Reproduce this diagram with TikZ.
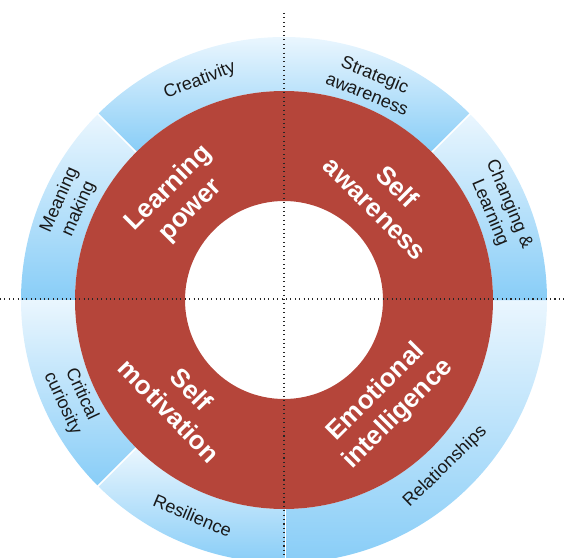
\documentclass[tikz,border=0pt]{standalone}
\usepackage{fontspec}
\setmainfont{Liberation Sans}
\usetikzlibrary{calc, positioning}
\definecolor{lpred}{HTML}{B5453A}
\definecolor{lpsky}{HTML}{88CDF7}
\definecolor{lpice}{HTML}{EAF6FE}

\begin{document}
\begin{tikzpicture}[x=1pt, y=1pt,
            seg/.style={top color=lpice, bottom color=lpsky},
            sep/.style={draw=white, line width=1.6pt},
            axis/.style={draw=black!85, line width=1.1pt, dash pattern=on 1.1pt off 3.3pt},
            small/.style={text=black!90, inner sep=0pt, align=center,
                font=\fontsize{18}{21}\selectfont},
            big/.style={text=white, inner sep=0pt, align=center,
                font=\bfseries\fontsize{26}{31}\selectfont}]
        \useasboundingbox (-284,-257) rectangle (281,300);
        % outer ring, seven parts
        \shade[seg] (90:209) arc (90:135:209) -- (135:263) arc (135:90:263) -- cycle;
        \shade[seg] (135:209) arc (135:180:209) -- (180:263) arc (180:135:263) -- cycle;
        \shade[seg] (180:209) arc (180:225:209) -- (225:263) arc (225:180:263) -- cycle;
        \shade[seg] (225:209) arc (225:270:209) -- (270:263) arc (270:225:263) -- cycle;
        \shade[seg] (270:209) arc (270:360:209) -- (0:263) arc (360:270:263) -- cycle;
        \shade[seg] (0:209) arc (0:45:209) -- (45:263) arc (45:0:263) -- cycle;
        \shade[seg] (45:209) arc (45:90:209) -- (90:263) arc (90:45:263) -- cycle;
        \draw[sep] (45:207) -- (45:265);
        \draw[sep] (135:207) -- (135:265);
        \draw[sep] (225:207) -- (225:265);
        \draw[sep] ([xshift=1.5pt]270:207) -- ([xshift=1.5pt]270:265);
        % inner ring
        \fill[lpred, even odd rule] (0,0) circle (209) (0,0) circle (99);
        % axes
        \coordinate (west) at (-284,1);
        \coordinate (east) at (281,1);
        \coordinate (north) at (0,287);
        \coordinate (south) at (0,-257);
        \draw[axis] (west) -- (east);
        \draw[axis] (north) -- (south);
        % four big labels
        \node[big, rotate=45] (learn) at (136:145) {Learning\\power};
        \node[big, rotate=-45] (selfaw) at (45:145) {Self\\awareness};
        \node[big, rotate=-46] (selfmo) at (224:144) {Self\\motivation};
        \node[big, rotate=45] (emoint) at (-45:146) {Emotional\\intelligence};
        % seven small labels
        \node[small, rotate=21] (creat) at (111:235) {Creativity};
        \node[small, rotate=66] (meaning) at (156:235) {Meaning\\making};
        \node[small, rotate=-22] (strat) at (68:233) {Strategic\\awareness};
        \node[small, rotate=-67] (chang) at (23:234) {Changing \&\\Learning};
        \node[small, rotate=-65] (crit) at (205:234) {Critical\\curiosity};
        \node[small, rotate=-23] (resil) at (247:234) {Resilience};
        \node[small, rotate=44] (relat) at (-46:232) {Relationships};
    \end{tikzpicture}
\end{document}
